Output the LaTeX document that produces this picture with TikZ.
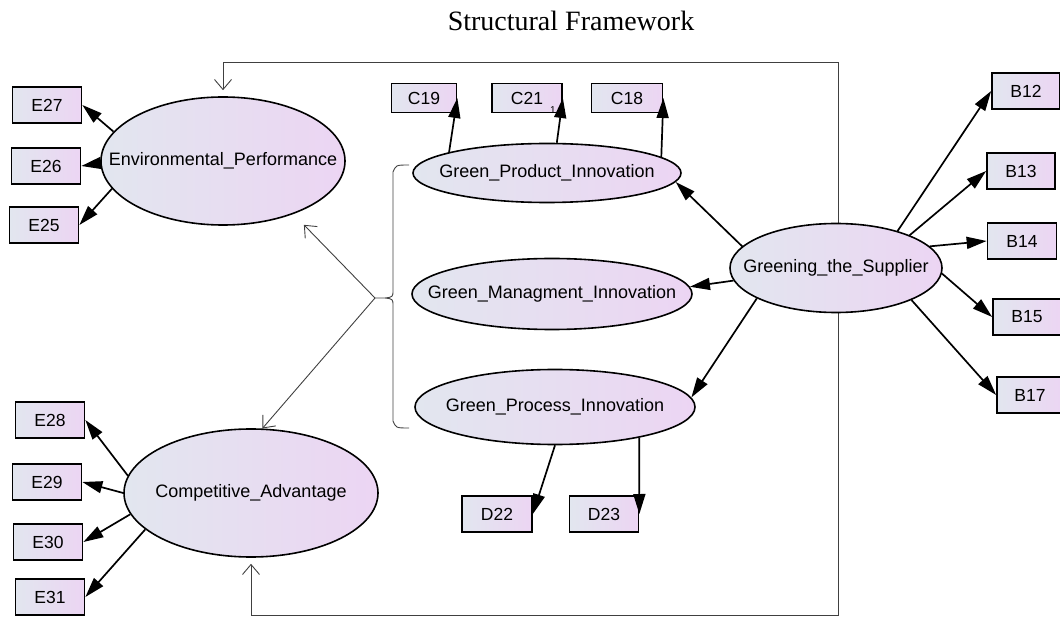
\documentclass[tikz,border=0pt]{standalone}
\usepackage{fontspec}
\setmainfont{Liberation Sans}
\newfontfamily\titlefont{Liberation Serif}
\usetikzlibrary{arrows.meta,shapes.geometric,backgrounds}

\definecolor{fillleft}{RGB}{226,230,239}
\definecolor{fillright}{RGB}{236,213,243}

\begin{document}
\begin{tikzpicture}[x=1pt, y=-1pt,
  obs/.style={draw, line width=1.7pt, left color=fillleft, right color=fillright,
              minimum width=69pt, minimum height=36pt, inner sep=0pt,
              font=\fontsize{17.5}{17.5}\selectfont},
  cbox/.style={obs, minimum height=29pt},
  latent/.style={draw, ellipse, line width=1.6pt, left color=fillleft, right color=fillright,
                 inner sep=0pt, label={[font=\fontsize{18}{18}\selectfont]center:#1}},
  arr/.style={-{Triangle[length=20pt,width=12pt]}, line width=1.7pt},
  link/.style={draw=black!75, line width=0.9pt},
  oarr/.style={link, -{Straight Barb[length=10pt,width=17pt]}},
  loopline/.style={link, {Straight Barb[length=10pt,width=17pt]}-{Straight Barb[length=10pt,width=17pt]},
                   shorten <=6pt, shorten >=6pt}]
  \useasboundingbox (0,0) rectangle (1060,617);

  \node[font=\titlefont\fontsize{28}{28}\selectfont, anchor=base] (title) at (571,31) {Structural Framework};

  % latent variables
  \node[latent=Environmental\_Performance, minimum width=244pt, minimum height=128pt] (envperf) at (223,161) {};
  \node[latent=Competitive\_Advantage, minimum width=254pt, minimum height=128pt] (compadv) at (251,493) {};
  \node[latent=Green\_Product\_Innovation, minimum width=268pt, minimum height=59pt] (gpi) at (547,173) {};
  \node[latent=Green\_Managment\_Innovation, minimum width=280pt, minimum height=71pt] (gmi) at (552,294) {};
  \node[latent=Green\_Process\_Innovation, minimum width=280pt, minimum height=75pt] (gpri) at (555,407) {};
  \node[latent=Greening\_the\_Supplier, minimum width=212pt, minimum height=89pt] (gts) at (836,268) {};

  % indicators
  \node[obs] (e27) at (47,105) {E27};
  \node[obs] (e26) at (46,166) {E26};
  \node[obs] (e25) at (44,225) {E25};
  \node[obs] (e28) at (50,420) {E28};
  \node[obs] (e29) at (47,482) {E29};
  \node[obs] (e30) at (48,542) {E30};
  \node[obs] (e31) at (50,597) {E31};
  \node[cbox, minimum width=65pt] (c19) at (424,98) {C19};
  \node[cbox, minimum width=70pt] (c21) at (527,98) {C21};
  \node[cbox, minimum width=71pt] (c18) at (627,98) {C18};
  \node[font=\fontsize{10}{10}\selectfont, inner sep=0pt] (c21n) at (553,110) {1};
  \node[obs, minimum width=70pt] (d22) at (497,514) {D22};
  \node[obs] (d23) at (604,514) {D23};
  \node[obs, minimum width=68pt] (b12) at (1026,91) {B12};
  \node[obs, minimum width=68pt] (b13) at (1021,171) {B13};
  \node[obs] (b14) at (1022,241) {B14};
  \node[obs, minimum width=68pt] (b15) at (1027,317) {B15};
  \node[obs, minimum width=66pt] (b17) at (1030,395) {B17};

  \draw[arr] (envperf.165) -- (e27.east);
  \draw[arr] (envperf.181) -- (e26.east);
  \draw[arr] (envperf.194) -- (e25.east);
  \draw[arr] (compadv.172) -- (e28.east);
  \draw[arr] (compadv.180) -- (e29.east);
  \draw[arr] (compadv.190) -- (e30.east);
  \draw[arr] (compadv.199) -- (e31.east);
  \draw[arr] (gpi.168) -- (c19.east);
  \draw[arr] (gpi.72) -- (c21.east);
  \draw[arr] (gpi.8) -- (c18.east);
  \draw[arr] (gpri.south) -- (d22.east);
  \draw[arr] (gpri.-20) -- (d23.east);
  \draw[arr] (gts.167) -- (gpi.-4);
  \draw[arr] (gts.187) -- (gmi.3);
  \draw[arr] (gts.201) -- (gpri.4);
  \draw[arr] (gts.31) -- (b12.west);
  \draw[arr] (gts.24) -- (b13.west);
  \draw[arr] (gts.13) -- (b14.west);
  \draw[arr] (gts.-3) -- (b15.west);
  \draw[arr] (gts.-23) -- (b17.west);

  % bracket round the three innovation constructs
  \coordinate (bracetip) at (375,298);
  \draw[link] (409,165) .. controls (396,165) .. (393,172) -- (393,290)
    .. controls (393,297) .. (385,298) -- (bracetip)
    (385,298) .. controls (393,299) .. (393,306) -- (393,421)
    .. controls (396,428) .. (409,428);
  \draw[oarr, shorten >=15pt] (bracetip) -- (envperf.-37);
  \draw[oarr] (bracetip) -- (compadv.80);

  \coordinate (looptop) at (838,62);
  \coordinate (loopbot) at (838,615);
  \begin{scope}[on background layer]
    \draw[loopline] (envperf.north) |- (looptop) -- (loopbot) -| (compadv.south);
  \end{scope}
\end{tikzpicture}
\end{document}
